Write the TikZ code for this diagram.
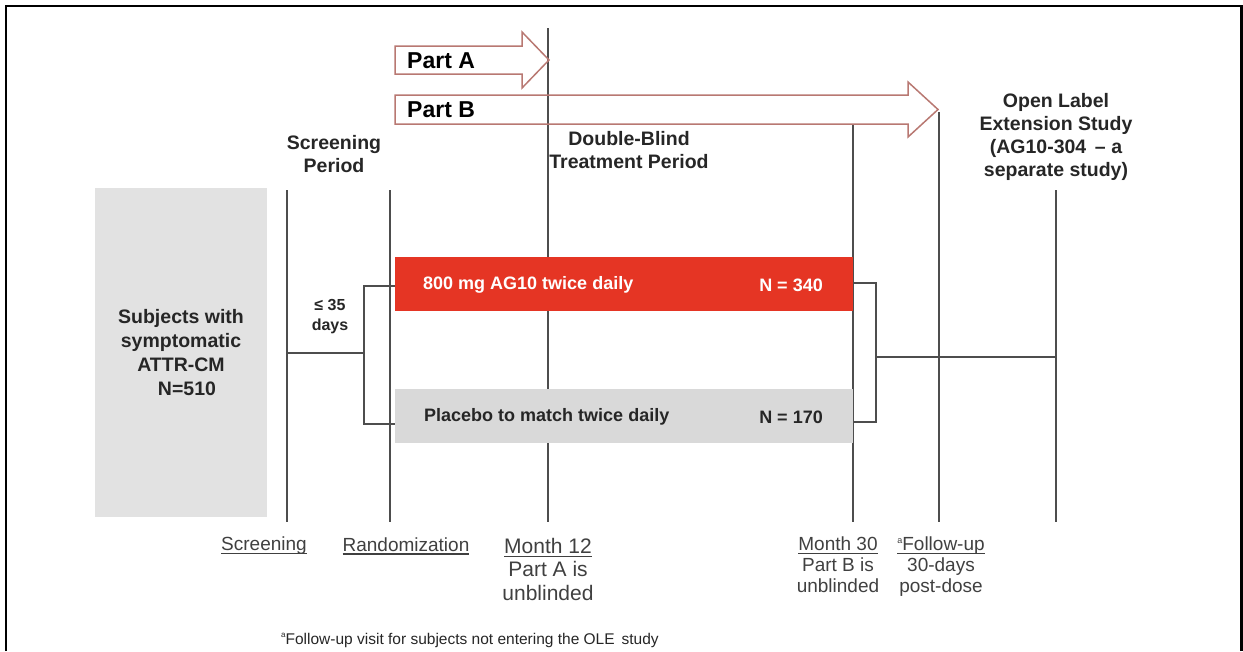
\documentclass[tikz,border=0pt]{standalone}
\usepackage{fontspec}
\setmainfont{Liberation Sans}
\newcommand\myul[1]{\setbox0=\hbox{#1}\rlap{\rule[-3.5pt]{\wd0}{1.3pt}}\box0}
\newcommand\supa[1]{\raisebox{0.75ex}{\fontsize{#1}{#1}\selectfont a}}
\definecolor{linegray}{HTML}{4D4D4D}
\definecolor{redbox}{HTML}{E53524}
\definecolor{graybox}{HTML}{D9D9D9}
\definecolor{subjgray}{HTML}{E2E2E2}
\definecolor{arrowc}{HTML}{B87872}
\definecolor{textdark}{HTML}{262626}
\definecolor{labelgray}{HTML}{404040}
\begin{document}
\begin{tikzpicture}[x=1pt,y=-1pt,
  vline/.style={draw=linegray,line width=1.2pt},
  brk/.style={draw=linegray,line width=1.2pt},
  head/.style={font=\fontsize{19.5}{23}\selectfont\bfseries,text=textdark,align=center,inner sep=0pt},
  boxtxt/.style={font=\fontsize{18}{20}\selectfont\bfseries,inner sep=0pt},
  lbl/.style={font=\fontsize{19}{21}\selectfont,text=labelgray,align=center,inner sep=0pt},
  parrow/.style={draw=arrowc,line width=1.5pt,line join=miter},
  parttxt/.style={font=\fontsize{23}{25}\selectfont\bfseries,text=black,inner sep=0pt,anchor=west},
]
\useasboundingbox (0,0) rectangle (1243,651);
% frame
\draw[line width=2.5pt] (6,651) -- (6,6);
\draw[line width=3pt] (1241.5,651) -- (1241.5,6);
\draw[line width=1.3pt] (6,6) -- (1241.5,6);
\draw[line width=2.6pt] (5,6) -- (50,6);
\draw[line width=2.6pt] (1174,6) -- (1243,6);

% vertical time lines
\coordinate (scrT) at (287,190);  \coordinate (scrB) at (287,522);
\coordinate (ranT) at (390,190);  \coordinate (ranB) at (390,522);
\coordinate (m12T) at (548,28);   \coordinate (m12B) at (548,522);
\coordinate (m30T) at (853,124);  \coordinate (m30B) at (853,522);
\coordinate (fuT) at (939,112);   \coordinate (fuB) at (939,522);
\coordinate (oleT) at (1056,190); \coordinate (oleB) at (1056,522);
\foreach \a in {scr,ran,m12,m30,fu,ole} \draw[vline] (\a T) -- (\a B);

% Part arrows
\draw[parrow] (395,46) -- (522,46) -- (522,32) -- (549,60) -- (522,88) -- (522,74) -- (395,74) -- cycle;
\draw[parrow] (395,95) -- (908,95) -- (908,82) -- (938,109.5) -- (908,137) -- (908,124) -- (395,124) -- cycle;
\node[parttxt] (partA) at (407,61) {Part A};
\node[parttxt] (partB) at (407,110) {Part B};

% subjects box
\node[fill=subjgray,minimum width=172pt,minimum height=329pt,inner sep=0pt,
      font=\fontsize{19.5}{24}\selectfont\bfseries,text=textdark,align=center]
      (subj) at (181,352.5) {Subjects with\\symptomatic\\ATTR-CM\\\hspace*{12pt}N=510};

% arm boxes
\node[fill=redbox,minimum width=458pt,minimum height=54pt,inner sep=0pt] (arm1) at (624,284) {};
\node[fill=graybox,minimum width=458pt,minimum height=54pt,inner sep=0pt] (arm2) at (624,416) {};
\node[boxtxt,text=white,anchor=west] (arm1txt) at (423,285) {800 mg AG10 twice daily};
\node[boxtxt,text=white,anchor=east] (arm1n) at (823,285) {N = 340};
\node[boxtxt,text=textdark,anchor=west] (arm2txt) at (424,417) {Placebo to match twice daily};
\node[boxtxt,text=textdark,anchor=east] (arm2n) at (823,417) {N = 170};

% brackets
\coordinate (blm) at (364,353);
\coordinate (blu) at (364,286);
\coordinate (bld) at (364,424);
\draw[brk] (blm -| scrT) -- (blm);
\draw[brk] (arm1.west |- blu) -- (blu) -- (bld) -- (arm2.west |- bld);
\coordinate (bru) at (876,283);
\coordinate (brd) at (876,422);
\coordinate (brm) at (876,357);
\draw[brk] (arm1.east |- bru) -- (bru) -- (brd) -- (arm2.east |- brd);
\draw[brk] (brm) -- (brm -| oleT);

% headings
\node[font=\fontsize{16}{20}\selectfont\bfseries,text=textdark,align=center,inner sep=0pt] (days) at (330,317) {≤ 35\\days};
\node[head] (scrper) at (334,154) {Screening\\Period};
\node[head] (dbt) at (629,150) {Double-Blind\\Treatment Period};
\node[head,font=\fontsize{19.5}{23.3}\selectfont\bfseries] (ole) at (1056,137) {Open Label\\Extension Study\\(AG10-304 \,– a\\separate study)};

% bottom labels
\node[lbl] (lscr) at (264,546) {\myul{Screening}};
\node[lbl] (lran) at (406,546) {\myul{Randomization}};
\node[lbl,font=\fontsize{21}{23.5}\selectfont,anchor=north] (lm12) at (548,538) {\myul{Month 12}\\Part A is\\unblinded};
\node[lbl,anchor=north] (lm30) at (838,537) {\myul{Month 30}\\Part B is\\unblinded};
\node[lbl,anchor=north] (lfu) at (941,537) {\myul{\supa{9}Follow-up}\\30-days\\post-dose};

% footnote
\node[font=\fontsize{15.5}{18}\selectfont,text=textdark,anchor=west,inner sep=0pt] (foot) at (281,640) {\supa{8}Follow-up visit for subjects not entering the OLE\, study};
\end{tikzpicture}
\end{document}
